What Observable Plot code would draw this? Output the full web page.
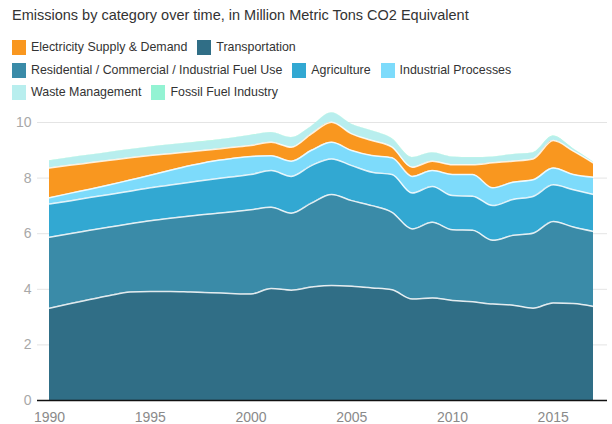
<!DOCTYPE html>
<html><head><meta charset="utf-8">
<script src="https://cdn.jsdelivr.net/npm/d3@7"></script>
<script src="https://cdn.jsdelivr.net/npm/@observablehq/plot@0.6"></script>
<style>
body{margin:0;width:612px;height:424px;position:relative;font-family:"Liberation Sans",Arial,sans-serif;background:#fff;overflow:hidden}
#title{position:absolute;left:12px;top:6px;font-size:14.5px;line-height:18px;color:#333;white-space:nowrap}
.row{position:absolute;left:12px;display:flex;align-items:center;height:16px;font-size:12.4px;color:#333;white-space:nowrap}
.sw{width:14px;height:15px;margin-right:5px;display:inline-block}
.item{display:flex;align-items:center;margin-right:10px}
#chart{position:absolute;left:0;top:104px}
</style></head><body>
<div id="title">Emissions by category over time, in Million Metric Tons CO2 Equivalent</div>
<div id="legend"></div>
<div id="chart"></div>
<script>
const years = [1990,1991,1992,1993,1994,1995,1996,1997,1998,1999,2000,2001,2002,2003,2004,2005,2006,2007,2008,2009,2010,2011,2012,2013,2014,2015,2016,2017];
const transportation = [3.32,3.48,3.63,3.78,3.90,3.92,3.92,3.90,3.88,3.85,3.83,4.03,3.97,4.08,4.14,4.11,4.05,3.98,3.65,3.69,3.60,3.55,3.47,3.43,3.32,3.51,3.49,3.38];
const residential = [2.55,2.52,2.49,2.46,2.46,2.55,2.64,2.74,2.83,2.93,3.03,2.92,2.77,3.02,3.27,3.08,2.96,2.79,2.52,2.72,2.54,2.57,2.29,2.51,2.70,2.93,2.75,2.70];
const agriculture = [1.20,1.18,1.18,1.17,1.17,1.18,1.19,1.21,1.24,1.26,1.27,1.32,1.32,1.35,1.28,1.26,1.20,1.36,1.29,1.29,1.23,1.23,1.25,1.29,1.32,1.32,1.34,1.33];
const industrialProcesses = [0.22,0.27,0.30,0.35,0.40,0.45,0.53,0.60,0.65,0.66,0.65,0.53,0.55,0.55,0.60,0.54,0.60,0.60,0.60,0.57,0.76,0.78,0.64,0.62,0.60,0.60,0.55,0.62];
const electricity = [1.07,1.01,0.95,0.88,0.80,0.71,0.60,0.50,0.42,0.40,0.39,0.49,0.50,0.59,0.72,0.60,0.54,0.38,0.33,0.34,0.35,0.35,0.90,0.76,0.75,0.99,0.84,0.51];
const waste = [0.25,0.26,0.27,0.28,0.29,0.30,0.31,0.31,0.31,0.32,0.36,0.34,0.34,0.26,0.33,0.34,0.34,0.30,0.34,0.29,0.27,0.25,0.20,0.23,0.21,0.15,0.08,0.03];
const fossilFuel = [0.01,0.01,0.01,0.01,0.01,0.01,0.01,0.01,0.01,0.01,0.01,0.01,0.01,0.01,0.01,0.01,0.01,0.01,0.01,0.01,0.01,0.01,0.01,0.01,0.01,0.01,0.01,0.01];

const categories = ["Transportation","Residential / Commercial / Industrial Fuel Use","Agriculture","Industrial Processes","Electricity Supply & Demand","Waste Management","Fossil Fuel Industry"];
const seriesValues = [transportation,residential,agriculture,industrialProcesses,electricity,waste,fossilFuel];
const colors = ["#306e86","#3a8ba8","#32a8d2","#7ddbfb","#f9971f","#b8eeee","#93f3d3"];
const legendRows = [
  ["Electricity Supply & Demand","Transportation"],
  ["Residential / Commercial / Industrial Fuel Use","Agriculture","Industrial Processes"],
  ["Waste Management","Fossil Fuel Industry"]
];
const yTicks = [0,2,4,6,8,10];
const xTicks = [1990,1995,2000,2005,2010,2015];

const rows = [];
categories.forEach((c,i) => years.forEach((y,j) => rows.push({year:y, category:c, value:seriesValues[i][j]})));

// legend
const legend = document.getElementById("legend");
const rowTops = [39, 62, 84];
legendRows.forEach((r,ri) => {
  const div = document.createElement("div");
  div.className = "row";
  div.style.top = rowTops[ri] + "px";
  r.forEach(name => {
    const it = document.createElement("span");
    it.className = "item";
    const sw = document.createElement("span");
    sw.className = "sw";
    sw.style.background = colors[categories.indexOf(name)];
    it.appendChild(sw);
    it.appendChild(document.createTextNode(name));
    div.appendChild(it);
  });
  legend.appendChild(div);
});

const lineRows = rows.filter(d => categories.indexOf(d.category) < 5);

const chart = Plot.plot({
  width: 612,
  height: 320,
  marginTop: 18,
  marginBottom: 24,
  marginLeft: 37,
  marginRight: 5,
  style: {fontFamily: '"Liberation Sans", Arial, sans-serif', fontSize: "14px", background: "transparent"},
  x: {domain: [1989.4044, 2017.6949]},
  y: {domain: [0, 10]},
  color: {domain: categories, range: colors},
  marks: [
    Plot.gridY(yTicks, {stroke: "#e4e4e4", strokeOpacity: 1, strokeWidth: 1}),
    Plot.areaY(rows, {x: "year", y: "value", z: "category", fill: "category", order: categories, curve: "monotone-x"}),
    Plot.lineY(lineRows, Plot.stackY2({x: "year", y: "value", z: "category", order: categories, stroke: "white", strokeOpacity: 0.85, strokeWidth: 1.5, curve: "monotone-x"})),
    Plot.ruleY([0], {stroke: "#111", strokeWidth: 1.5}),
    Plot.axisY(yTicks, {tickSize: 0, tickPadding: 6, fill: "#a8a8a8", label: null, fontSize: 14}),
    Plot.axisX(xTicks, {tickSize: 0, tickPadding: 12, fill: "#8a8a8a", label: null, tickFormat: d => String(d), fontSize: 14})
  ]
});
document.getElementById("chart").appendChild(chart);
</script>
</body></html>
